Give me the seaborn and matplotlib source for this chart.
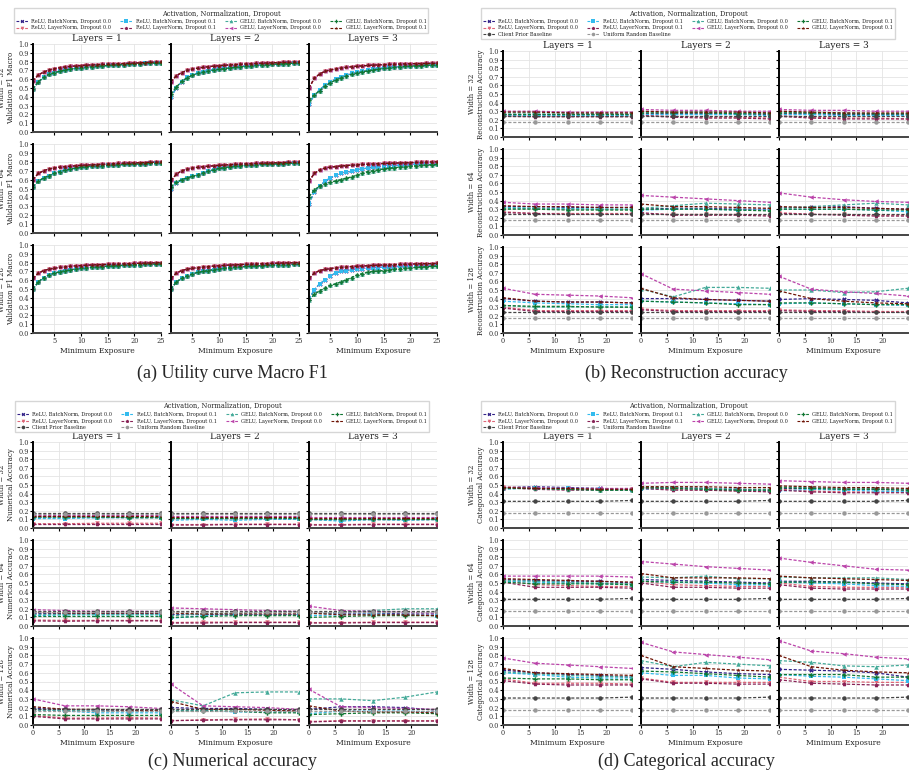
import numpy as np
import pandas as pd
import seaborn as sns
import matplotlib.pyplot as plt
from matplotlib.lines import Line2D

# ---- labels / styling lists ----
series = ["ReLU, BatchNorm, Dropout 0.0", "ReLU, LayerNorm, Dropout 0.0",
          "ReLU, BatchNorm, Dropout 0.1", "ReLU, LayerNorm, Dropout 0.1",
          "GELU, BatchNorm, Dropout 0.0", "GELU, LayerNorm, Dropout 0.0",
          "GELU, BatchNorm, Dropout 0.1", "GELU, LayerNorm, Dropout 0.1"]
baselines = ["Client Prior Baseline", "Uniform Random Baseline"]
colors = ["#332288", "#DD6677", "#33BBEE", "#882255",
          "#44AA99", "#BB44AA", "#117733", "#6E1405"]
base_colors = ["#444444", "#999999"]
markers = ["X", "v", "s", "p", "^", "<", "P", "*"]
widths = [32, 64, 128]
layers = [1, 2, 3]

# ---- (a) utility curve macro F1, x = minimum exposure 1..25 ----
exposure_a = [1, 2, 3, 4, 5, 6, 7, 8, 9, 10, 11, 12, 13, 14, 15, 16, 17, 18, 19, 20, 21, 22, 23, 24, 25]

# LayerNorm runs (all four overlap), per layers = 1, 2, 3
f1_ln_w32 = [
    [.58, .65, .68, .705, .72, .73, .74, .745, .75, .755, .76, .762, .765, .768, .77, .773, .776, .778, .78, .783, .786, .789, .792, .795, .797],
    [.57, .64, .675, .70, .715, .725, .735, .742, .748, .753, .758, .762, .766, .77, .773, .776, .779, .782, .784, .787, .789, .791, .793, .795, .797],
    [.50, .61, .66, .69, .705, .717, .727, .735, .742, .747, .752, .756, .76, .763, .766, .768, .77, .772, .774, .776, .777, .778, .779, .78, .781]]
f1_ln_w64 = [
    [.60, .67, .70, .72, .73, .74, .745, .75, .755, .76, .763, .766, .769, .772, .775, .778, .781, .784, .786, .788, .79, .792, .794, .796, .798],
    [.59, .66, .70, .715, .73, .738, .745, .75, .755, .76, .764, .768, .771, .774, .777, .78, .782, .784, .786, .788, .79, .792, .793, .795, .796],
    [.58, .67, .71, .73, .74, .747, .753, .758, .762, .766, .77, .773, .776, .779, .781, .783, .785, .787, .789, .791, .793, .795, .797, .798, .80]]
f1_ln_w128 = [
    [.62, .68, .71, .725, .735, .745, .752, .758, .763, .767, .77, .773, .776, .778, .78, .782, .784, .786, .788, .79, .792, .794, .796, .798, .80],
    [.62, .68, .71, .725, .735, .743, .75, .755, .76, .764, .768, .772, .775, .778, .78, .783, .785, .787, .789, .791, .793, .795, .797, .798, .80],
    [.62, .68, .71, .722, .732, .74, .746, .751, .755, .759, .762, .765, .768, .771, .773, .775, .777, .779, .781, .783, .785, .787, .788, .789, .79]]

# ReLU + BatchNorm runs
f1_relu_bn_w32 = [
    [.49, .57, .62, .655, .675, .69, .705, .715, .725, .73, .737, .742, .747, .752, .756, .76, .764, .767, .77, .773, .776, .779, .782, .784, .786],
    [.40, .50, .57, .62, .65, .67, .685, .697, .707, .717, .725, .732, .738, .744, .75, .755, .76, .764, .768, .772, .775, .778, .781, .784, .786],
    [.32, .42, .48, .53, .57, .60, .625, .645, .665, .68, .692, .703, .712, .72, .727, .733, .738, .743, .747, .751, .754, .757, .759, .761, .763]]
f1_relu_bn_w64 = [
    [.52, .58, .62, .645, .67, .69, .705, .718, .73, .738, .745, .75, .755, .758, .761, .764, .767, .77, .772, .775, .777, .779, .781, .783, .785],
    [.50, .56, .60, .62, .635, .655, .675, .695, .71, .725, .735, .743, .75, .755, .76, .764, .768, .771, .774, .776, .778, .78, .782, .784, .785],
    [.33, .46, .53, .58, .62, .65, .67, .68, .695, .71, .72, .73, .737, .743, .75, .754, .758, .762, .766, .77, .772, .774, .776, .778, .78]]
f1_relu_bn_w128 = [
    [.50, .58, .63, .66, .68, .695, .708, .718, .727, .735, .741, .746, .751, .755, .759, .763, .766, .769, .772, .775, .777, .779, .781, .783, .785],
    [.50, .58, .62, .65, .67, .69, .70, .71, .72, .73, .737, .743, .748, .752, .756, .76, .763, .766, .769, .772, .774, .776, .778, .78, .782],
    [.39, .49, .56, .60, .65, .68, .70, .71, .72, .725, .73, .735, .74, .744, .748, .751, .754, .757, .76, .762, .764, .766, .767, .768, .77]]

# GELU + BatchNorm runs
f1_gelu_bn_w32 = [
    [.49, .57, .62, .655, .675, .69, .705, .715, .725, .73, .737, .742, .747, .752, .756, .76, .764, .767, .77, .773, .776, .779, .782, .784, .786],
    [.43, .51, .575, .615, .645, .665, .68, .693, .704, .713, .721, .728, .735, .741, .747, .752, .757, .761, .765, .769, .772, .775, .778, .781, .783],
    [.36, .42, .47, .52, .56, .59, .615, .635, .655, .67, .683, .695, .705, .714, .722, .729, .735, .74, .745, .749, .752, .755, .758, .76, .762]]
f1_gelu_bn_w64 = [
    [.52, .58, .62, .645, .67, .69, .705, .718, .73, .738, .745, .75, .755, .758, .761, .764, .767, .77, .772, .775, .777, .779, .781, .783, .785],
    [.52, .57, .60, .62, .635, .655, .675, .695, .71, .725, .735, .743, .75, .755, .76, .764, .767, .77, .772, .775, .777, .779, .781, .783, .785],
    [.41, .48, .53, .55, .57, .585, .60, .615, .63, .65, .67, .69, .70, .71, .72, .727, .734, .74, .745, .75, .755, .76, .764, .767, .77]]
f1_gelu_bn_w128 = [
    [.50, .58, .63, .66, .68, .695, .708, .718, .727, .735, .741, .746, .751, .755, .759, .763, .766, .769, .772, .775, .777, .779, .781, .783, .785],
    [.50, .58, .62, .65, .67, .69, .70, .71, .72, .73, .737, .743, .748, .752, .756, .76, .763, .766, .769, .772, .774, .776, .778, .78, .782],
    [.37, .44, .48, .51, .54, .56, .58, .605, .63, .66, .675, .69, .70, .705, .71, .717, .724, .73, .735, .74, .745, .75, .754, .757, .76]]

# ---- (b)-(d): x = minimum exposure, 5 evaluation points ----
exposure = [0, 6.25, 12.5, 18.75, 25]
# per layers = 1, 2, 3; series in the order of `series`

recon_w32 = [
    [[.27, .27, .27, .27, .27], [.25, .24, .24, .24, .24], [.26, .26, .26, .26, .26], [.24, .235, .235, .235, .235],
     [.28, .28, .28, .27, .27], [.30, .30, .29, .29, .29], [.27, .27, .27, .27, .27], [.29, .29, .28, .28, .28]],
    [[.27, .27, .27, .27, .26], [.25, .24, .23, .23, .22], [.26, .26, .26, .26, .25], [.25, .23, .22, .22, .21],
     [.29, .29, .29, .28, .28], [.32, .31, .31, .30, .30], [.28, .28, .28, .27, .27], [.30, .29, .29, .29, .28]],
    [[.27, .27, .26, .26, .26], [.25, .23, .22, .22, .21], [.26, .26, .25, .25, .25], [.24, .22, .21, .21, .21],
     [.29, .28, .28, .27, .27], [.32, .31, .31, .30, .30], [.28, .28, .27, .27, .27], [.30, .29, .28, .28, .28]]]
recon_w64 = [
    [[.33, .33, .32, .32, .32], [.27, .25, .25, .25, .25], [.32, .31, .31, .30, .30], [.26, .25, .24, .24, .24],
     [.31, .31, .30, .30, .30], [.38, .36, .36, .35, .35], [.30, .30, .29, .29, .29], [.34, .33, .33, .32, .32]],
    [[.30, .31, .31, .30, .30], [.25, .24, .24, .24, .23], [.29, .30, .30, .29, .29], [.26, .23, .23, .23, .22],
     [.31, .34, .37, .36, .35], [.46, .44, .42, .40, .38], [.30, .30, .30, .29, .28], [.36, .33, .33, .32, .31]],
    [[.32, .32, .33, .31, .30], [.26, .24, .24, .23, .23], [.30, .30, .30, .29, .27], [.25, .24, .23, .22, .22],
     [.31, .33, .35, .37, .35], [.49, .44, .41, .39, .38], [.30, .30, .30, .29, .29], [.33, .32, .32, .31, .30]]]
recon_w128 = [
    [[.40, .37, .36, .36, .35], [.30, .26, .26, .26, .26], [.37, .35, .34, .33, .33], [.29, .25, .25, .25, .25],
     [.32, .30, .30, .31, .30], [.52, .45, .44, .43, .41], [.32, .31, .31, .30, .30], [.41, .37, .36, .36, .35]],
    [[.40, .40, .39, .38, .37], [.28, .26, .26, .26, .26], [.37, .36, .35, .34, .33], [.27, .25, .25, .25, .25],
     [.51, .42, .53, .53, .52], [.69, .51, .49, .47, .45], [.37, .36, .35, .33, .33], [.52, .41, .39, .38, .37]],
    [[.39, .40, .39, .38, .35], [.27, .26, .26, .25, .25], [.34, .35, .34, .33, .32], [.26, .25, .25, .24, .24],
     [.50, .50, .47, .48, .52], [.66, .51, .48, .46, .43], [.35, .35, .34, .33, .33], [.49, .40, .37, .35, .34]]]
recon_client = [.25, .25, .25, .25, .25]
recon_uniform = [.17, .17, .17, .17, .17]

num_w32 = [
    [[.13, .13, .13, .13, .13], [.05, .05, .055, .055, .055], [.11, .11, .12, .12, .12], [.05, .05, .05, .05, .05],
     [.13, .13, .13, .13, .13], [.15, .15, .15, .15, .15], [.13, .13, .13, .12, .12], [.14, .14, .14, .14, .14]],
    [[.12, .12, .12, .12, .12], [.04, .04, .045, .045, .045], [.09, .10, .09, .10, .10], [.035, .035, .04, .04, .04],
     [.12, .12, .12, .12, .12], [.14, .14, .14, .14, .14], [.12, .12, .12, .12, .12], [.13, .13, .13, .13, .13]],
    [[.11, .11, .11, .11, .11], [.04, .04, .045, .045, .045], [.10, .08, .10, .09, .10], [.035, .035, .04, .04, .04],
     [.11, .11, .11, .11, .11], [.13, .13, .13, .13, .13], [.11, .11, .11, .11, .11], [.12, .12, .12, .12, .12]]]
num_w64 = [
    [[.15, .15, .15, .15, .15], [.07, .065, .065, .065, .065], [.12, .13, .13, .13, .13], [.06, .055, .06, .06, .06],
     [.14, .14, .14, .14, .14], [.19, .18, .17, .17, .17], [.12, .12, .12, .12, .12], [.16, .15, .15, .15, .15]],
    [[.14, .14, .14, .14, .14], [.04, .045, .045, .045, .045], [.09, .12, .13, .13, .13], [.035, .035, .04, .04, .04],
     [.12, .14, .15, .16, .17], [.21, .20, .19, .18, .17], [.10, .11, .12, .12, .12], [.15, .14, .14, .14, .14]],
    [[.15, .15, .15, .14, .14], [.04, .04, .045, .045, .045], [.12, .13, .14, .13, .12], [.035, .035, .04, .04, .04],
     [.14, .16, .18, .20, .20], [.23, .18, .17, .16, .15], [.10, .11, .12, .12, .12], [.15, .13, .13, .13, .12]]]
num_w128 = [
    [[.19, .18, .17, .17, .17], [.11, .08, .08, .085, .08], [.18, .16, .14, .14, .14], [.10, .07, .07, .07, .07],
     [.17, .17, .16, .16, .16], [.30, .22, .22, .21, .19], [.12, .11, .11, .11, .11], [.21, .18, .18, .17, .17]],
    [[.20, .19, .19, .18, .17], [.05, .06, .065, .07, .06], [.17, .17, .15, .15, .15], [.05, .055, .06, .06, .06],
     [.29, .22, .37, .38, .38], [.47, .22, .21, .20, .18], [.16, .16, .16, .14, .14], [.27, .18, .18, .17, .16]],
    [[.18, .21, .21, .20, .17], [.04, .05, .05, .05, .05], [.13, .16, .16, .16, .15], [.035, .045, .045, .045, .045],
     [.30, .30, .28, .32, .38], [.41, .21, .20, .19, .18], [.12, .13, .14, .14, .13], [.22, .16, .15, .15, .14]]]
num_client = [.18, .18, .18, .18, .18]
num_uniform = [.16, .16, .16, .16, .16]

cat_w32 = [
    [[.47, .48, .47, .46, .45], [.48, .46, .45, .45, .45], [.45, .47, .46, .45, .44], [.47, .45, .44, .44, .44],
     [.46, .46, .45, .44, .44], [.47, .47, .46, .46, .46], [.46, .46, .45, .44, .44], [.47, .46, .46, .45, .45]],
    [[.47, .47, .46, .45, .44], [.47, .45, .44, .43, .43], [.45, .46, .45, .44, .43], [.46, .44, .44, .43, .42],
     [.48, .47, .46, .45, .45], [.52, .53, .53, .52, .51], [.47, .46, .45, .44, .44], [.48, .48, .48, .47, .47]],
    [[.46, .46, .45, .45, .44], [.45, .43, .42, .42, .42], [.43, .45, .44, .43, .42], [.44, .42, .41, .41, .41],
     [.48, .47, .46, .46, .45], [.55, .54, .53, .53, .52], [.47, .46, .45, .45, .44], [.49, .48, .47, .47, .46]]]
cat_w64 = [
    [[.54, .53, .52, .52, .50], [.53, .48, .47, .46, .46], [.52, .51, .50, .49, .48], [.51, .45, .45, .45, .44],
     [.53, .52, .51, .50, .49], [.58, .58, .58, .58, .57], [.51, .49, .49, .49, .48], [.55, .54, .53, .52, .51]],
    [[.54, .53, .52, .51, .50], [.52, .48, .47, .46, .46], [.52, .51, .50, .48, .48], [.50, .45, .45, .44, .44],
     [.57, .56, .58, .55, .55], [.75, .72, .69, .67, .65], [.52, .51, .51, .50, .49], [.61, .56, .56, .56, .55]],
    [[.52, .52, .51, .50, .49], [.50, .46, .45, .45, .45], [.51, .50, .49, .47, .46], [.48, .44, .43, .43, .43],
     [.57, .56, .56, .56, .54], [.79, .74, .70, .66, .65], [.51, .51, .51, .49, .48], [.58, .56, .55, .54, .53]]]
cat_w128 = [
    [[.63, .60, .58, .57, .55], [.53, .48, .48, .48, .47], [.60, .58, .55, .54, .54], [.51, .47, .46, .46, .46],
     [.61, .59, .57, .56, .55], [.77, .71, .69, .67, .65], [.54, .53, .53, .52, .52], [.65, .60, .59, .58, .57]],
    [[.66, .64, .61, .59, .58], [.54, .49, .49, .49, .49], [.60, .57, .57, .54, .53], [.53, .48, .48, .47, .47],
     [.74, .67, .72, .70, .68], [.95, .84, .81, .78, .75], [.62, .61, .59, .57, .55], [.80, .67, .65, .63, .62]],
    [[.64, .63, .62, .60, .55], [.55, .50, .50, .49, .49], [.58, .56, .55, .53, .51], [.52, .48, .47, .46, .46],
     [.74, .72, .68, .67, .69], [.97, .85, .82, .78, .76], [.58, .58, .58, .55, .55], [.80, .67, .63, .61, .60]]]
cat_client = [.31, .31, .31, .31, .32]
cat_uniform = [.17, .17, .17, .17, .17]

# ---- style ----
sns.set_theme(style="whitegrid")
plt.rcParams["font.family"] = ["DejaVu Serif"]
DASH = (2.5, 1.4)
names_all = series + baselines
palette = dict(zip(names_all, colors + base_colors))
marker_map = dict(zip(names_all, markers + ["o", "o"]))
dash_map = {n: DASH for n in names_all}

W, H = 915, 780
fig = plt.figure(figsize=(W / 100, H / 100), dpi=100)


def px_axes(x0, x1, y0, y1):
    return fig.add_axes([x0 / W, 1 - y1 / H, (x1 - x0) / W, (y1 - y0) / H])


def draw_cell(ax, x, ys, names):
    df = pd.DataFrame({
        "x": np.tile(x, len(ys)),
        "y": np.concatenate([np.asarray(v, float) for v in ys]),
        "series": np.repeat(names, len(x)),
    })
    sns.lineplot(data=df, x="x", y="y", hue="series", style="series",
                 hue_order=names, style_order=names, palette=palette,
                 markers=marker_map, dashes=dash_map, ax=ax, legend=False,
                 errorbar=None, linewidth=0.9, markersize=3.2, markeredgewidth=0)


def style_cell(ax, i, j, xlim, xticks, ylabel):
    ax.set_xlim(*xlim)
    ax.set_ylim(0, 1)
    ax.set_xticks(xticks)
    ax.set_yticks(np.arange(0, 1.01, 0.1))
    ax.yaxis.set_major_formatter("{x:.1f}")
    ax.grid(color="#e4e4e4", linewidth=0.6)
    sns.despine(ax=ax)
    ax.spines["left"].set_color("black")
    ax.spines["left"].set_linewidth(1.4)
    ax.spines["bottom"].set_color("#444444")
    ax.spines["bottom"].set_linewidth(1.4)
    ax.tick_params(left=True, bottom=True, length=2, width=0.8, color="black",
                   labelsize=4.8, labelcolor="#333333", pad=1)
    ax.tick_params(labelleft=(j == 0), labelbottom=(i == 2))
    ax.set_xlabel("Minimum Exposure" if i == 2 else "", fontsize=5.5, labelpad=1.5, color="#222222")
    ax.set_ylabel(f"Width = {widths[i]}\n{ylabel}" if j == 0 else "", fontsize=5,
                  color="#222222", linespacing=1.1)
    ax.yaxis.set_label_coords(-0.142, 0.5)
    if i == 0:
        ax.set_title(f"Layers = {layers[j]}", fontsize=6.5, pad=2, color="#222222")


def legend_handles(names):
    return [Line2D([0], [0], color=palette[n], marker=marker_map[n], linestyle=(0, DASH),
                   linewidth=0.8, markersize=2.6, markeredgewidth=0) for n in names]


def add_legend(names, cx, top):
    fig.legend(handles=legend_handles(names), labels=names, loc="upper center",
               bbox_to_anchor=(cx / W, 1 - top / H), ncol=4, fontsize=3.6,
               title="Activation, Normalization, Dropout", title_fontsize=4.8,
               frameon=True, fancybox=False, edgecolor="#cccccc", borderpad=0.4,
               labelspacing=0.3, columnspacing=1.8, handlelength=2.4, handletextpad=0.7)


left_cols = [(33, 161), (171, 299), (309, 437)]
right_cols = [(503, 632), (641, 770), (779, 908)]

# ---- panel (a) ----
rows_a = [(44, 132), (144, 233), (245, 333)]
f1_ln = [f1_ln_w32, f1_ln_w64, f1_ln_w128]
f1_relu = [f1_relu_bn_w32, f1_relu_bn_w64, f1_relu_bn_w128]
f1_gelu = [f1_gelu_bn_w32, f1_gelu_bn_w64, f1_gelu_bn_w128]
for i in range(3):
    for j in range(3):
        ax = px_axes(left_cols[j][0], left_cols[j][1], rows_a[i][0], rows_a[i][1])
        ln, rb, gb = f1_ln[i][j], f1_relu[i][j], f1_gelu[i][j]
        draw_cell(ax, exposure_a, [rb, ln, rb, ln, gb, ln, gb, ln], series)
        style_cell(ax, i, j, (1, 25), [5, 10, 15, 20, 25], "Validation F1 Macro")
add_legend(series, 221, 5)

# legend column order: ReLU runs with the baselines below them, then GELU runs
legend_order = [series[0], series[1], baselines[0], series[2], series[3], baselines[1],
                series[4], series[5], series[6], series[7]]

# ---- panels (b), (c), (d) ----
rows_b = [(51, 137), (149, 235), (247, 333)]
rows_c = [(442, 528), (540, 626), (638, 725)]
panels = [
    (right_cols, rows_b, [recon_w32, recon_w64, recon_w128], recon_client, recon_uniform,
     "Reconstruction Accuracy", 688, 5),
    (left_cols, rows_c, [num_w32, num_w64, num_w128], num_client, num_uniform,
     "Numerical Accuracy", 222, 398),
    (right_cols, rows_c, [cat_w32, cat_w64, cat_w128], cat_client, cat_uniform,
     "Categorical Accuracy", 688, 398),
]
for cols, rows, data, client, uniform, ylab, lcx, ltop in panels:
    for i in range(3):
        for j in range(3):
            ax = px_axes(cols[j][0], cols[j][1], rows[i][0], rows[i][1])
            draw_cell(ax, exposure, data[i][j] + [client, uniform], names_all)
            style_cell(ax, i, j, (0, 25), [0, 5, 10, 15, 20], ylab)
    add_legend(legend_order, lcx, ltop)

# ---- captions ----
cap_kw = dict(ha="center", va="center", fontsize=13, family="Liberation Serif")
fig.text(232 / W, 1 - 373 / H, "(a) Utility curve Macro F1", **cap_kw)
fig.text(686 / W, 1 - 373 / H, "(b) Reconstruction accuracy", **cap_kw)
fig.text(232 / W, 1 - 761 / H, "(c) Numerical accuracy", **cap_kw)
fig.text(686 / W, 1 - 761 / H, "(d) Categorical accuracy", **cap_kw)

fig.savefig("out.png", dpi=100)
plt.close(fig)
